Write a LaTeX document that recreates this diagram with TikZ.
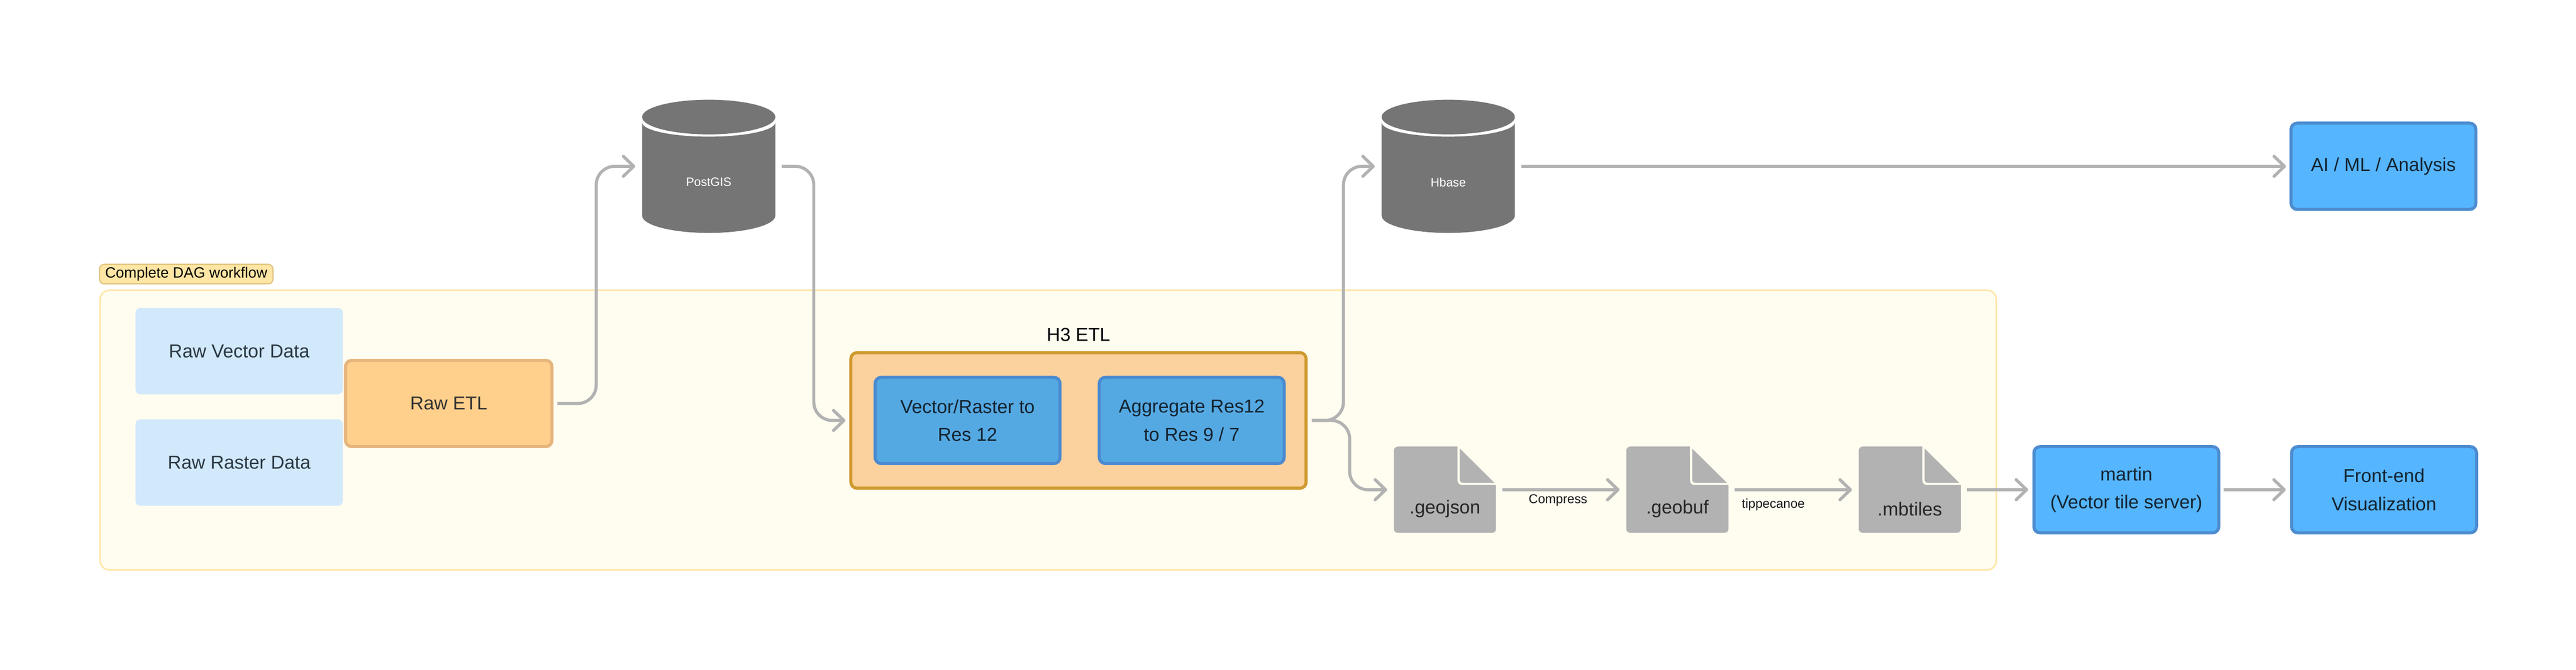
\documentclass[tikz,border=0pt]{standalone}
\usepackage{fontspec}
\setmainfont{Liberation Sans}
\usetikzlibrary{arrows.meta,positioning}
\definecolor{framefill}{HTML}{FFFCF0}
\definecolor{frameline}{HTML}{FFE6A5}
\definecolor{tagline}{HTML}{DEC37E}
\definecolor{rawfill}{HTML}{D1E9FA}
\definecolor{etlfill}{HTML}{FFCF8C}
\definecolor{etlline}{HTML}{E5B57C}
\definecolor{hfill}{HTML}{FBD19E}
\definecolor{hline}{HTML}{CF9A2E}
\definecolor{stepfill}{HTML}{55A9E2}
\definecolor{stepline}{HTML}{4A8AD0}
\definecolor{appfill}{HTML}{55B5FF}
\definecolor{appline}{HTML}{4D8CCF}
\definecolor{dbgrey}{HTML}{757575}
\definecolor{filegrey}{HTML}{B2B2B2}
\definecolor{inkdark}{HTML}{14232F}
\tikzset{
    %Define standard arrow tip
    >={Straight Barb[length=.27cm,width=.52cm,round]},
    %Define text sizes
    bigtext/.style={font=\fontsize{13.85pt}{20.8pt}\selectfont},
    smalltext/.style={font=\fontsize{9.5pt}{11pt}\selectfont},
    %Define style for boxes
    rawbox/.style={
           rectangle,
           rounded corners=.12cm,
           fill=rawfill,
           text=inkdark!90,
           bigtext,
           minimum width=5.38cm,
           minimum height=2.24cm},
    etlbox/.style={
           rectangle,
           rounded corners=.16cm,
           draw=etlline, fill=etlfill,
           line width=.08cm,
           text=black!80,
           bigtext,
           minimum width=5.36cm,
           minimum height=2.24cm},
    stepbox/.style={
           etlbox,
           draw=stepline, fill=stepfill,
           text=inkdark,
           align=center,
           minimum width=4.80cm},
    appbox/.style={
           stepbox,
           draw=appline, fill=appfill},
    dbnode/.style={
           rectangle,
           minimum width=3.46cm,
           minimum height=3.46cm},
    filenode/.style={
           rectangle,
           minimum width=2.65cm,
           minimum height=2.24cm},
    % Define arrow style
    pil/.style={
           ->,
           line width=.08cm,
           draw=filegrey,
           rounded corners=.48cm,
           shorten <=.16cm,
           shorten >=.17cm},
    % Define the drawn symbols
    dbpic/.pic={
           \fill[dbgrey] (-1.73,1.14) -- (-1.73,-1.28)
               arc[start angle=180,end angle=360,x radius=1.73,y radius=.45]
               -- (1.73,1.14)
               arc[start angle=0,end angle=-180,x radius=1.73,y radius=.37] -- cycle;
           \fill[dbgrey] (0,1.28) ellipse[x radius=1.73,y radius=.45];},
    filepic/.pic={
           \fill[filegrey] (-1.325,-1.12) [rounded corners=.1cm] -- (-1.325,1.12)
               [sharp corners] -- (.325,1.12) [rounded corners=.12cm] -- (.325,.12)
               [sharp corners] -- (1.325,.12) [rounded corners=.1cm] -- (1.325,-1.12) -- cycle;
           \fill[filegrey] (.385,1.07) -- (1.285,.18) [rounded corners=.08cm] -- (.385,.18) [sharp corners] -- cycle;}
}
\begin{document}
\begin{tikzpicture}
\useasboundingbox (0,0) rectangle (66.88,17.40);
% Workflow frame
\node[draw=frameline, fill=framefill, line width=.04cm, rounded corners=.24cm,
    minimum width=49.23cm, minimum height=7.26cm] (dagframe) at (27.215,6.23) {};
\node[draw=tagline, fill=frameline, line width=.03cm, rounded corners=.12cm,
    font=\fontsize{11pt}{12pt}\selectfont,
    minimum width=4.50cm, minimum height=.51cm, inner sep=0pt] (dagtag) at (4.835,10.28) {Complete DAG workflow};

% Raw data
\node[rawbox] (rawvector) at (6.21,8.28) {Raw Vector Data};
\node[rawbox, below=.64cm of rawvector] (rawraster) {Raw Raster Data};
\node[etlbox] (rawetl) at (11.65,6.92) {Raw ETL};

% H3 ETL
\node[etlbox, draw=hline, fill=hfill, minimum width=11.82cm, minimum height=3.52cm] (h3etl) at (28.00,6.48) {};
\node[bigtext, above=.13cm of h3etl] (h3title) {H3 ETL};
\node[stepbox] (vecres) at (25.12,6.48) {Vector/Raster to\\Res 12};
\node[stepbox, right=.94cm of vecres] (aggres) {Aggregate Res12\\to Res 9 / 7};

% Databases
\pic at (18.40,13.08) {dbpic};
\node[dbnode] (postgis) at (18.40,13.08) {};
\node[smalltext, text=white, font=\fontsize{9pt}{11pt}\selectfont] (postgistext) at (18.40,12.67) {PostGIS};
\pic at (37.60,13.08) {dbpic};
\node[dbnode] (hbase) at (37.60,13.08) {};
\node[smalltext, text=white, font=\fontsize{9pt}{11pt}\selectfont] (hbasetext) at (37.60,12.67) {Hbase};

% Files
\node[filenode] (geojson) at (37.515,4.68) {};
\node[filenode, right=3.37cm of geojson] (geobuf) {};
\node[filenode, right=3.37cm of geobuf] (mbtiles) {};
\pic at (geojson) {filepic};
\pic at (geobuf) {filepic};
\pic at (mbtiles) {filepic};
\node[bigtext, text=black!85] (geojsontext) at ([yshift=-.5cm]geojson) {.geojson};
\node[bigtext, text=black!85] (geobuftext) at ([yshift=-.5cm]geobuf) {.geobuf};
\node[bigtext, text=black!85] (mbtilestext) at ([yshift=-.5cm]mbtiles) {.mbtiles};

% Applications
\node[appbox] (martin) at (55.205,4.68) {martin\\(Vector tile server)};
\node[appbox, right=1.81cm of martin] (frontend) {Front-end\\Visualization};
\node[appbox] (aiml) at (61.88,13.08) {AI / ML / Analysis};

% Connectors
\draw[pil, shorten <=.10cm] (rawetl.east) -- ++(1.11,0) |- (postgis.west);
\draw[pil, shorten >=.10cm] (postgis.east) -- ++(.99,0) |- (h3etl.west);
\draw[pil, shorten <=.11cm] (h3etl.east) -- ++(.93,0) |- (hbase.west);
\draw[pil, shorten <=.11cm] (h3etl.east) -- ++(1.09,0) |- (geojson.west);
\draw[pil, shorten >=.09cm] (hbase.east) -- (aiml.west);
\draw[pil] (geojson.east) -- (geobuf.west);
\draw[pil] (geobuf.east) -- (mbtiles.west);
\draw[pil, shorten <=.15cm, shorten >=.11cm] (mbtiles.east) -- (martin.west);
\draw[pil, shorten <=.09cm, shorten >=.11cm] (martin.east) -- (frontend.west);
\node[smalltext, text=black!90] (compress) at (40.45,4.41) {Compress};
\node[smalltext, text=black!90] (tippecanoe) at (46.04,4.29) {tippecanoe};
\end{tikzpicture}
\end{document}
